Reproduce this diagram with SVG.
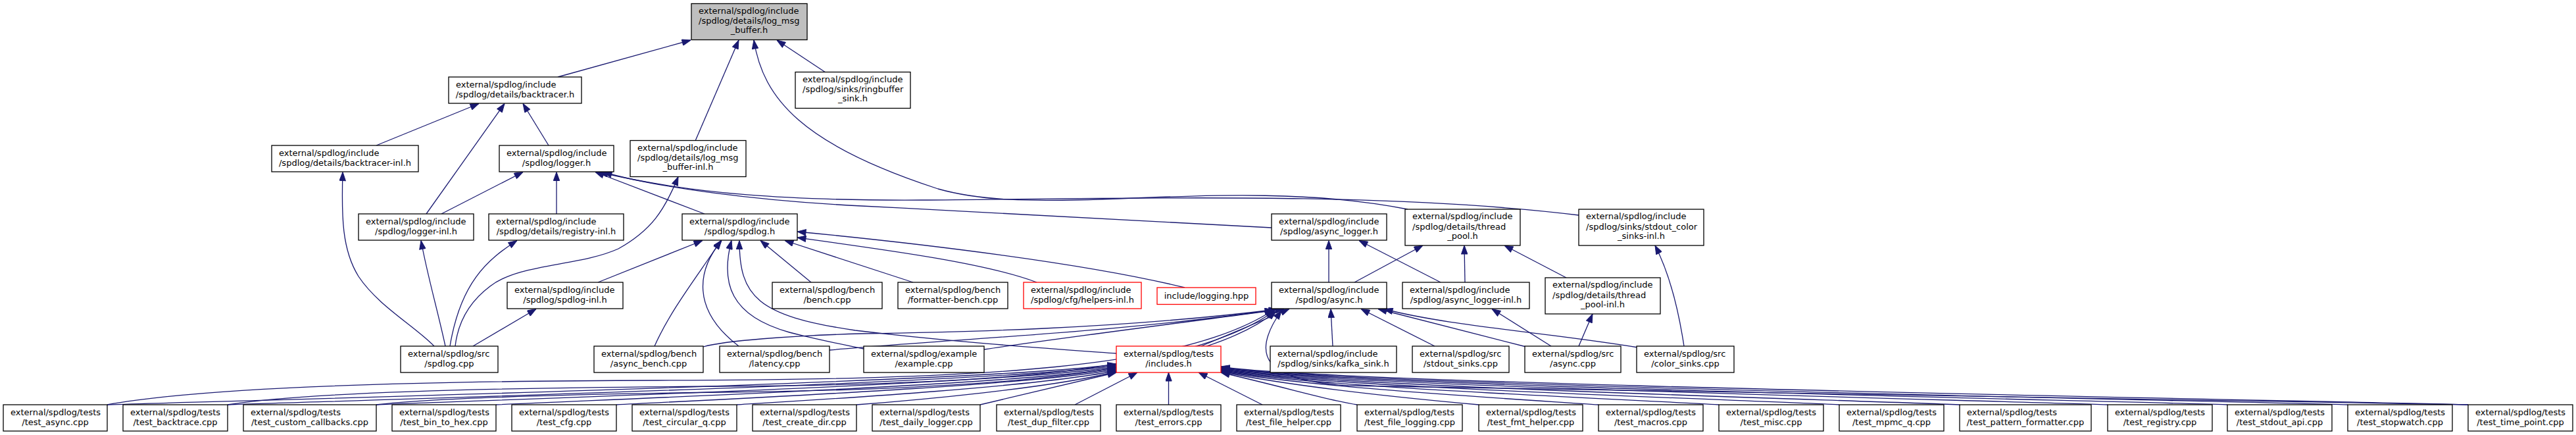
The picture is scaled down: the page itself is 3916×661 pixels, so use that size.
<svg xmlns="http://www.w3.org/2000/svg" width="3916" height="661" viewBox="0 0 3916 661">
<style>
.node rect{fill:#fff;stroke:#000;stroke-width:1.3}
.node.hl rect{fill:#bfbfbf}
.node.red rect{stroke:#ff0000}
text{font-family:"DejaVu Sans",sans-serif;font-size:13px;fill:#000}
.c{text-anchor:middle}
.edges path{fill:none;stroke:#191970;stroke-width:1.3;marker-start:url(#ah)}
</style>
<defs>
<marker id="ah" markerUnits="userSpaceOnUse" viewBox="0 -5 14 10" markerWidth="14" markerHeight="10" refX="0" refY="0" orient="auto">
<path d="M0,0 L13,-4.7 L13,4.7 z" fill="#191970" stroke="#191970" stroke-width="1"/>
</marker>
</defs>
<rect width="3916" height="661" fill="#fff"/>
<g class="edges">
<path d="M1050,61 L848,117"/>
<path d="M1123,61 L1057,214"/>
<path d="M1146,61 C1160,150 1220,220 1426,287 C1490,305 1560,307 1700,302 C1850,296 2000,290 2140,318"/>
<path d="M1181,61 L1255,110"/>
<path d="M728,157.5 L572,221"/>
<path d="M767,157.5 L648,325"/>
<path d="M795,157.5 L834,221"/>
<path d="M521,261.5 C519,330 520,380 545,420 C575,465 630,495 660,526"/>
<path d="M795,261.5 L671,325"/>
<path d="M846,261.5 L846,325"/>
<path d="M905,261.5 L1071,325"/>
<path d="M917,261.5 C1000,285 1150,305 1310,313 C1550,325 1800,340 1933,346"/>
<path d="M911,261.5 C1050,295 1200,305 1400,304 C1700,302 2100,290 2400,327"/>
<path d="M1031,268.5 C1010,320 990,350 940,378 C880,405 790,400 745,435 C705,465 695,500 692,526"/>
<path d="M640,365.5 C650,420 665,470 677,526"/>
<path d="M786,365.5 C740,395 700,430 684,526"/>
<path d="M815,469.5 L719,526"/>
<path d="M1068,365.5 L909,429"/>
<path d="M1096,365.5 C1060,420 1020,470 995,526"/>
<path d="M1097,365.5 C1060,410 1050,470 1123,526"/>
<path d="M1124,365.5 C1124,450 1150,480 1300,502 C1450,520 1600,530 1697,537"/>
<path d="M1112,365.5 C1095,430 1110,480 1200,505 C1250,518 1290,525 1313,530"/>
<path d="M1156,365.5 L1233,429"/>
<path d="M1193,365.5 L1388,429"/>
<path d="M1212,352 C1400,370 1650,400 1801,437"/>
<path d="M1212,361 C1350,380 1500,400 1576,429"/>
<path d="M2020,365.5 L2020,429"/>
<path d="M2066,365.5 L2190,429"/>
<path d="M2163,373 L2059,429"/>
<path d="M2226,373 L2227,429"/>
<path d="M2287,373 L2381,422"/>
<path d="M2516,373 C2535,410 2550,460 2560,526"/>
<path d="M2268,469.5 L2358,526"/>
<path d="M2421,477 L2400,526"/>
<path d="M2023,469.5 L2026,526"/>
<path d="M2069,469.5 L2181,526"/>
<path d="M2095,469.5 L2320,527"/>
<path d="M2104,469.5 C2200,495 2350,505 2490,528"/>
<path d="M1960,469.5 L1826,526"/>
<path d="M1952,469.5 C1800,490 1600,515 1496,531"/>
<path d="M1942,470 C1700,500 1450,505 1310,507 C1200,510 1100,518 1069,527"/>
<path d="M1936,471 C1700,505 1450,515 1261,532"/>
<path d="M1697,553 C1560,578 470,606 163,615"/>
<path d="M1697,555 C1560,580 616,606 346,615"/>
<path d="M1697,557 C1560,582 797,606 572,615"/>
<path d="M1697,559 C1560,584 943,606 754,615"/>
<path d="M1697,561 C1570,586 1089,607 937,615"/>
<path d="M1697,563 C1580,588 1235,608 1120,615"/>
<path d="M1697,564.5 C1600,590 1381,609 1302,615"/>
<path d="M1697,566 L1490,615"/>
<path d="M1729,566 L1634,615"/>
<path d="M1776.5,566 L1776.5,615"/>
<path d="M1822,566 L1919,615"/>
<path d="M1856,566 C1960,590 2022,609 2063,615"/>
<path d="M1856,565 C1980,590 2170,608 2248,615"/>
<path d="M1856,564 C1990,589 2315,607 2430,615"/>
<path d="M1856,563 C1990,588 2462,606 2613,615"/>
<path d="M1856,562 C1990,587 2608,606 2796,615"/>
<path d="M1856,561 C1990,586 2754,606 2979,615"/>
<path d="M1856,560 C1990,585 2934,606 3204,615"/>
<path d="M1856,559 C1990,584 3080,606 3386,615"/>
<path d="M1856,558 C1990,583 3226,606 3569,615"/>
<path d="M1856,557 C1990,582 3373,606 3752,615"/>
<path d="M1936,471 C1800,560 1500,577 1000,578 C600,579 300,590 163,615"/>
<path d="M1938,472 C1810,565 1500,585 1100,587 C700,589 450,598 346,615"/>
<path d="M1940,473 C1820,570 1500,592 1100,596 C800,600 650,606 572,615"/>
<path d="M1948,472 C1900,540 1920,578 2050,586 C2700,598 3500,606 3752,615"/>
</g>
<g id="n0" class="node hl"><rect x="1051" y="5.5" width="176" height="55"/><text x="1062" y="20.8">external/spdlog/include</text><text x="1062" y="36.2">/spdlog/details/log_msg</text><text x="1139" y="50.4" class="c">_buffer.h</text></g>
<g id="n1" class="node"><rect x="682" y="117" width="202" height="40"/><text x="693" y="132.5">external/spdlog/include</text><text x="783" y="147.5" class="c">/spdlog/details/backtracer.h</text></g>
<g id="n2" class="node"><rect x="1209" y="109.5" width="175" height="55"/><text x="1220" y="124.8">external/spdlog/include</text><text x="1220" y="140.2">/spdlog/sinks/ringbuffer</text><text x="1296.5" y="154.4" class="c">_sink.h</text></g>
<g id="n3" class="node"><rect x="413" y="221" width="223" height="40"/><text x="424" y="236.5">external/spdlog/include</text><text x="524.5" y="251.5" class="c">/spdlog/details/backtracer-inl.h</text></g>
<g id="n4" class="node"><rect x="759" y="221" width="174" height="40"/><text x="770" y="236.5">external/spdlog/include</text><text x="846" y="251.5" class="c">/spdlog/logger.h</text></g>
<g id="n5" class="node"><rect x="958" y="213.5" width="176" height="55"/><text x="969" y="228.8">external/spdlog/include</text><text x="969" y="244.2">/spdlog/details/log_msg</text><text x="1046" y="258.4" class="c">_buffer-inl.h</text></g>
<g id="n6" class="node"><rect x="545" y="325" width="175" height="40"/><text x="556" y="340.5">external/spdlog/include</text><text x="632.5" y="355.5" class="c">/spdlog/logger-inl.h</text></g>
<g id="n7" class="node"><rect x="743" y="325" width="205" height="40"/><text x="754" y="340.5">external/spdlog/include</text><text x="845.5" y="355.5" class="c">/spdlog/details/registry-inl.h</text></g>
<g id="n8" class="node"><rect x="1037" y="325" width="175" height="40"/><text x="1048" y="340.5">external/spdlog/include</text><text x="1124.5" y="355.5" class="c">/spdlog/spdlog.h</text></g>
<g id="n9" class="node"><rect x="1933" y="325" width="175" height="40"/><text x="1944" y="340.5">external/spdlog/include</text><text x="2020.5" y="355.5" class="c">/spdlog/async_logger.h</text></g>
<g id="n10" class="node"><rect x="2136" y="318" width="175" height="55"/><text x="2147" y="333.3">external/spdlog/include</text><text x="2147" y="348.7">/spdlog/details/thread</text><text x="2223.5" y="362.9" class="c">_pool.h</text></g>
<g id="n11" class="node"><rect x="2400" y="318" width="190" height="55"/><text x="2411" y="333.3">external/spdlog/include</text><text x="2411" y="348.7">/spdlog/sinks/stdout_color</text><text x="2495" y="362.9" class="c">_sinks-inl.h</text></g>
<g id="n12" class="node"><rect x="771" y="429" width="176" height="40"/><text x="782" y="444.5">external/spdlog/include</text><text x="859" y="459.5" class="c">/spdlog/spdlog-inl.h</text></g>
<g id="n13" class="node"><rect x="1174" y="429" width="167" height="40"/><text x="1185" y="444.5">external/spdlog/bench</text><text x="1257.5" y="459.5" class="c">/bench.cpp</text></g>
<g id="n14" class="node"><rect x="1365" y="429" width="167" height="40"/><text x="1376" y="444.5">external/spdlog/bench</text><text x="1448.5" y="459.5" class="c">/formatter-bench.cpp</text></g>
<g id="n15" class="node red"><rect x="1556" y="429" width="179" height="40"/><text x="1567" y="444.5">external/spdlog/include</text><text x="1645.5" y="459.5" class="c">/spdlog/cfg/helpers-inl.h</text></g>
<g id="n16" class="node red"><rect x="1759" y="437" width="150" height="25.5"/><text x="1834" y="454" class="c">include/logging.hpp</text></g>
<g id="n17" class="node"><rect x="1933" y="429" width="175" height="40"/><text x="1944" y="444.5">external/spdlog/include</text><text x="2020.5" y="459.5" class="c">/spdlog/async.h</text></g>
<g id="n18" class="node"><rect x="2132" y="429" width="193" height="40"/><text x="2143" y="444.5">external/spdlog/include</text><text x="2228.5" y="459.5" class="c">/spdlog/async_logger-inl.h</text></g>
<g id="n19" class="node"><rect x="2349" y="422" width="175" height="55"/><text x="2360" y="437.3">external/spdlog/include</text><text x="2360" y="452.7">/spdlog/details/thread</text><text x="2436.5" y="466.9" class="c">_pool-inl.h</text></g>
<g id="n20" class="node"><rect x="609" y="526" width="148" height="40"/><text x="620" y="541.5">external/spdlog/src</text><text x="683" y="556.5" class="c">/spdlog.cpp</text></g>
<g id="n21" class="node"><rect x="903" y="526" width="166" height="40"/><text x="914" y="541.5">external/spdlog/bench</text><text x="986" y="556.5" class="c">/async_bench.cpp</text></g>
<g id="n22" class="node"><rect x="1094" y="526" width="167" height="40"/><text x="1105" y="541.5">external/spdlog/bench</text><text x="1177.5" y="556.5" class="c">/latency.cpp</text></g>
<g id="n23" class="node"><rect x="1313" y="526" width="183" height="40"/><text x="1324" y="541.5">external/spdlog/example</text><text x="1404.5" y="556.5" class="c">/example.cpp</text></g>
<g id="n24" class="node red"><rect x="1697" y="526" width="159" height="40"/><text x="1708" y="541.5">external/spdlog/tests</text><text x="1776.5" y="556.5" class="c">/includes.h</text></g>
<g id="n25" class="node"><rect x="1931" y="526" width="192" height="40"/><text x="1942" y="541.5">external/spdlog/include</text><text x="2027" y="556.5" class="c">/spdlog/sinks/kafka_sink.h</text></g>
<g id="n26" class="node"><rect x="2147" y="526" width="147" height="40"/><text x="2158" y="541.5">external/spdlog/src</text><text x="2220.5" y="556.5" class="c">/stdout_sinks.cpp</text></g>
<g id="n27" class="node"><rect x="2318" y="526" width="146" height="40"/><text x="2329" y="541.5">external/spdlog/src</text><text x="2391" y="556.5" class="c">/async.cpp</text></g>
<g id="n28" class="node"><rect x="2488" y="526" width="148" height="40"/><text x="2499" y="541.5">external/spdlog/src</text><text x="2562" y="556.5" class="c">/color_sinks.cpp</text></g>
<g id="t0" class="node"><rect x="5" y="615" width="158" height="40"/><text x="16" y="630.5">external/spdlog/tests</text><text x="84" y="645.5" class="c">/test_async.cpp</text></g>
<g id="t1" class="node"><rect x="187" y="615" width="159" height="40"/><text x="198" y="630.5">external/spdlog/tests</text><text x="266.5" y="645.5" class="c">/test_backtrace.cpp</text></g>
<g id="t2" class="node"><rect x="370" y="615" width="202" height="40"/><text x="381" y="630.5">external/spdlog/tests</text><text x="471" y="645.5" class="c">/test_custom_callbacks.cpp</text></g>
<g id="t3" class="node"><rect x="596" y="615" width="158" height="40"/><text x="607" y="630.5">external/spdlog/tests</text><text x="675" y="645.5" class="c">/test_bin_to_hex.cpp</text></g>
<g id="t4" class="node"><rect x="778" y="615" width="159" height="40"/><text x="789" y="630.5">external/spdlog/tests</text><text x="857.5" y="645.5" class="c">/test_cfg.cpp</text></g>
<g id="t5" class="node"><rect x="961" y="615" width="159" height="40"/><text x="972" y="630.5">external/spdlog/tests</text><text x="1040.5" y="645.5" class="c">/test_circular_q.cpp</text></g>
<g id="t6" class="node"><rect x="1144" y="615" width="158" height="40"/><text x="1155" y="630.5">external/spdlog/tests</text><text x="1223" y="645.5" class="c">/test_create_dir.cpp</text></g>
<g id="t7" class="node"><rect x="1326" y="615" width="164" height="40"/><text x="1337" y="630.5">external/spdlog/tests</text><text x="1408" y="645.5" class="c">/test_daily_logger.cpp</text></g>
<g id="t8" class="node"><rect x="1515" y="615" width="158" height="40"/><text x="1526" y="630.5">external/spdlog/tests</text><text x="1594" y="645.5" class="c">/test_dup_filter.cpp</text></g>
<g id="t9" class="node"><rect x="1697" y="615" width="159" height="40"/><text x="1708" y="630.5">external/spdlog/tests</text><text x="1776.5" y="645.5" class="c">/test_errors.cpp</text></g>
<g id="t10" class="node"><rect x="1880" y="615" width="158" height="40"/><text x="1891" y="630.5">external/spdlog/tests</text><text x="1959" y="645.5" class="c">/test_file_helper.cpp</text></g>
<g id="t11" class="node"><rect x="2063" y="615" width="160" height="40"/><text x="2074" y="630.5">external/spdlog/tests</text><text x="2143" y="645.5" class="c">/test_file_logging.cpp</text></g>
<g id="t12" class="node"><rect x="2248" y="615" width="158" height="40"/><text x="2259" y="630.5">external/spdlog/tests</text><text x="2327" y="645.5" class="c">/test_fmt_helper.cpp</text></g>
<g id="t13" class="node"><rect x="2430" y="615" width="159" height="40"/><text x="2441" y="630.5">external/spdlog/tests</text><text x="2509.5" y="645.5" class="c">/test_macros.cpp</text></g>
<g id="t14" class="node"><rect x="2613" y="615" width="159" height="40"/><text x="2624" y="630.5">external/spdlog/tests</text><text x="2692.5" y="645.5" class="c">/test_misc.cpp</text></g>
<g id="t15" class="node"><rect x="2796" y="615" width="159" height="40"/><text x="2807" y="630.5">external/spdlog/tests</text><text x="2875.5" y="645.5" class="c">/test_mpmc_q.cpp</text></g>
<g id="t16" class="node"><rect x="2979" y="615" width="200" height="40"/><text x="2990" y="630.5">external/spdlog/tests</text><text x="3079" y="645.5" class="c">/test_pattern_formatter.cpp</text></g>
<g id="t17" class="node"><rect x="3204" y="615" width="159" height="40"/><text x="3215" y="630.5">external/spdlog/tests</text><text x="3283.5" y="645.5" class="c">/test_registry.cpp</text></g>
<g id="t18" class="node"><rect x="3386" y="615" width="159" height="40"/><text x="3397" y="630.5">external/spdlog/tests</text><text x="3465.5" y="645.5" class="c">/test_stdout_api.cpp</text></g>
<g id="t19" class="node"><rect x="3569" y="615" width="159" height="40"/><text x="3580" y="630.5">external/spdlog/tests</text><text x="3648.5" y="645.5" class="c">/test_stopwatch.cpp</text></g>
<g id="t20" class="node"><rect x="3752" y="615" width="159" height="40"/><text x="3763" y="630.5">external/spdlog/tests</text><text x="3831.5" y="645.5" class="c">/test_time_point.cpp</text></g>
</svg>
